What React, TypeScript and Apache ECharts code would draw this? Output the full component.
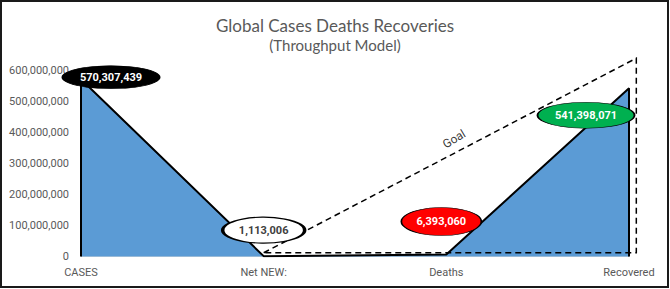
import React, { useEffect, useRef } from "react";
import * as echarts from "echarts";

const categories = ["CASES", "Net NEW:", "Deaths", "Recovered"];
const values = [570307439, 1113006, 6393060, 541398071];
const yMin = 0;
const yMax = 600000000;
const yInterval = 100000000;
const goalX = [1, 3.04, 3.04, 1];
const goalY = [12000000, 638000000, 12000000, 12000000];
const goalText = "Goal";
const titleText = "Global Cases Deaths Recoveries";
const subtitleText = "(Throughput Model)";

const labelStyles = [
  { fill: "#000000", text: "#FFFFFF", border: "#000000", borderWidth: 1, size: [97, 23], offset: [30, -2] },
  { fill: "#FFFFFF", text: "#404040", border: "#000000", borderWidth: 2, size: [82, 26], offset: [0, -26] },
  { fill: "#FF0000", text: "#FFFFFF", border: "#000000", borderWidth: 1, size: [80, 28], offset: [-5, -33] },
  { fill: "#00B050", text: "#FFFFFF", border: "#000000", borderWidth: 1, size: [97, 26], offset: [-43, 27] },
];

const fmt = (v: number) => v.toLocaleString("en-US");

export default function App() {
  const ref = useRef<HTMLDivElement>(null);
  useEffect(() => {
    document.body.style.margin = "0";
    const chart = echarts.init(ref.current!, null, { renderer: "svg" });
    const areaData: number[][] = [[0, 0], ...values.map((v, i) => [i, v]), [values.length - 1, 0]];
    const goalData = goalX.map((x, i) => [x, goalY[i]]);
    const goalMid = [(goalX[0] + goalX[1]) / 2, (goalY[0] + goalY[1]) / 2];
    const font = "Roboto, 'Open Sans', sans-serif";
    chart.setOption({
      animation: false,
      backgroundColor: "#FFFFFF",
      title: {
        text: titleText,
        subtext: subtitleText,
        left: "center",
        top: 12,
        itemGap: 3,
        textStyle: { color: "#595959", fontSize: 17, fontWeight: "normal", fontFamily: "Lato, sans-serif" },
        subtextStyle: { color: "#595959", fontSize: 15, fontFamily: "Lato, sans-serif" },
      },
      graphic: [
        {
          type: "rect",
          shape: { x: 1, y: 1, width: 667, height: 286 },
          style: { fill: "none", stroke: "#1a1a1a", lineWidth: 2 },
          silent: true,
        },
      ],
      grid: { left: 81, right: 41, top: 70, bottom: 32.5, containLabel: false },
      xAxis: {
        type: "value",
        min: 0,
        max: categories.length - 1,
        interval: 1,
        axisLine: { show: true, lineStyle: { color: "#D9D9D9", width: 1 } },
        axisTick: { show: false },
        splitLine: { show: false },
        axisLabel: {
          formatter: (v: number) => categories[Math.round(v)] ?? "",
          color: "#595959",
          fontSize: 11,
          fontFamily: font,
          margin: 10,
        },
      },
      yAxis: {
        type: "value",
        min: yMin,
        max: yMax,
        interval: yInterval,
        axisLine: { show: false },
        axisTick: { show: false },
        splitLine: { show: false },
        axisLabel: {
          formatter: (v: number) => fmt(v),
          color: "#595959",
          fontSize: 11,
          fontFamily: font,
          margin: 12,
        },
      },
      series: [
        {
          type: "line",
          data: areaData,
          symbol: "none",
          silent: true,
          lineStyle: { color: "#000000", width: 2 },
          areaStyle: { color: "#5B9BD5", opacity: 1 },
          z: 2,
        },
        {
          type: "custom",
          silent: true,
          clip: false,
          data: [0],
          renderItem: (_params: any, api: any) => ({
            type: "polyline",
            shape: { points: goalData.map((p) => api.coord(p)) },
            style: { fill: "none", stroke: "#000000", lineWidth: 1.5, lineDash: [6, 4] },
          }),
          z: 3,
        },
        {
          type: "scatter",
          data: [goalMid],
          symbolSize: 0,
          silent: true,
          clip: false,
          label: {
            show: true,
            formatter: goalText,
            position: "inside",
            rotate: 31,
            offset: [12, -12],
            color: "#000000",
            fontSize: 12,
            fontFamily: font,
          },
          z: 4,
        },
        {
          type: "scatter",
          silent: true,
          clip: false,
          symbol: "circle",
          data: values.map((v, i) => ({
            value: [i, v],
            symbolSize: labelStyles[i].size,
            symbolOffset: labelStyles[i].offset,
            itemStyle: {
              color: labelStyles[i].fill,
              borderColor: labelStyles[i].border,
              borderWidth: labelStyles[i].borderWidth,
              opacity: 1,
            },
            label: { color: labelStyles[i].text },
          })),
          label: {
            show: true,
            position: "inside",
            formatter: (p: any) => fmt(values[p.dataIndex]),
            fontSize: 11,
            fontWeight: "bold",
            fontFamily: font,
          },
          z: 5,
        },
      ],
    });
    return () => chart.dispose();
  }, []);
  return <div ref={ref} style={{ width: 670, height: 289, position: "absolute", left: 0, top: 0 }} />;
}
